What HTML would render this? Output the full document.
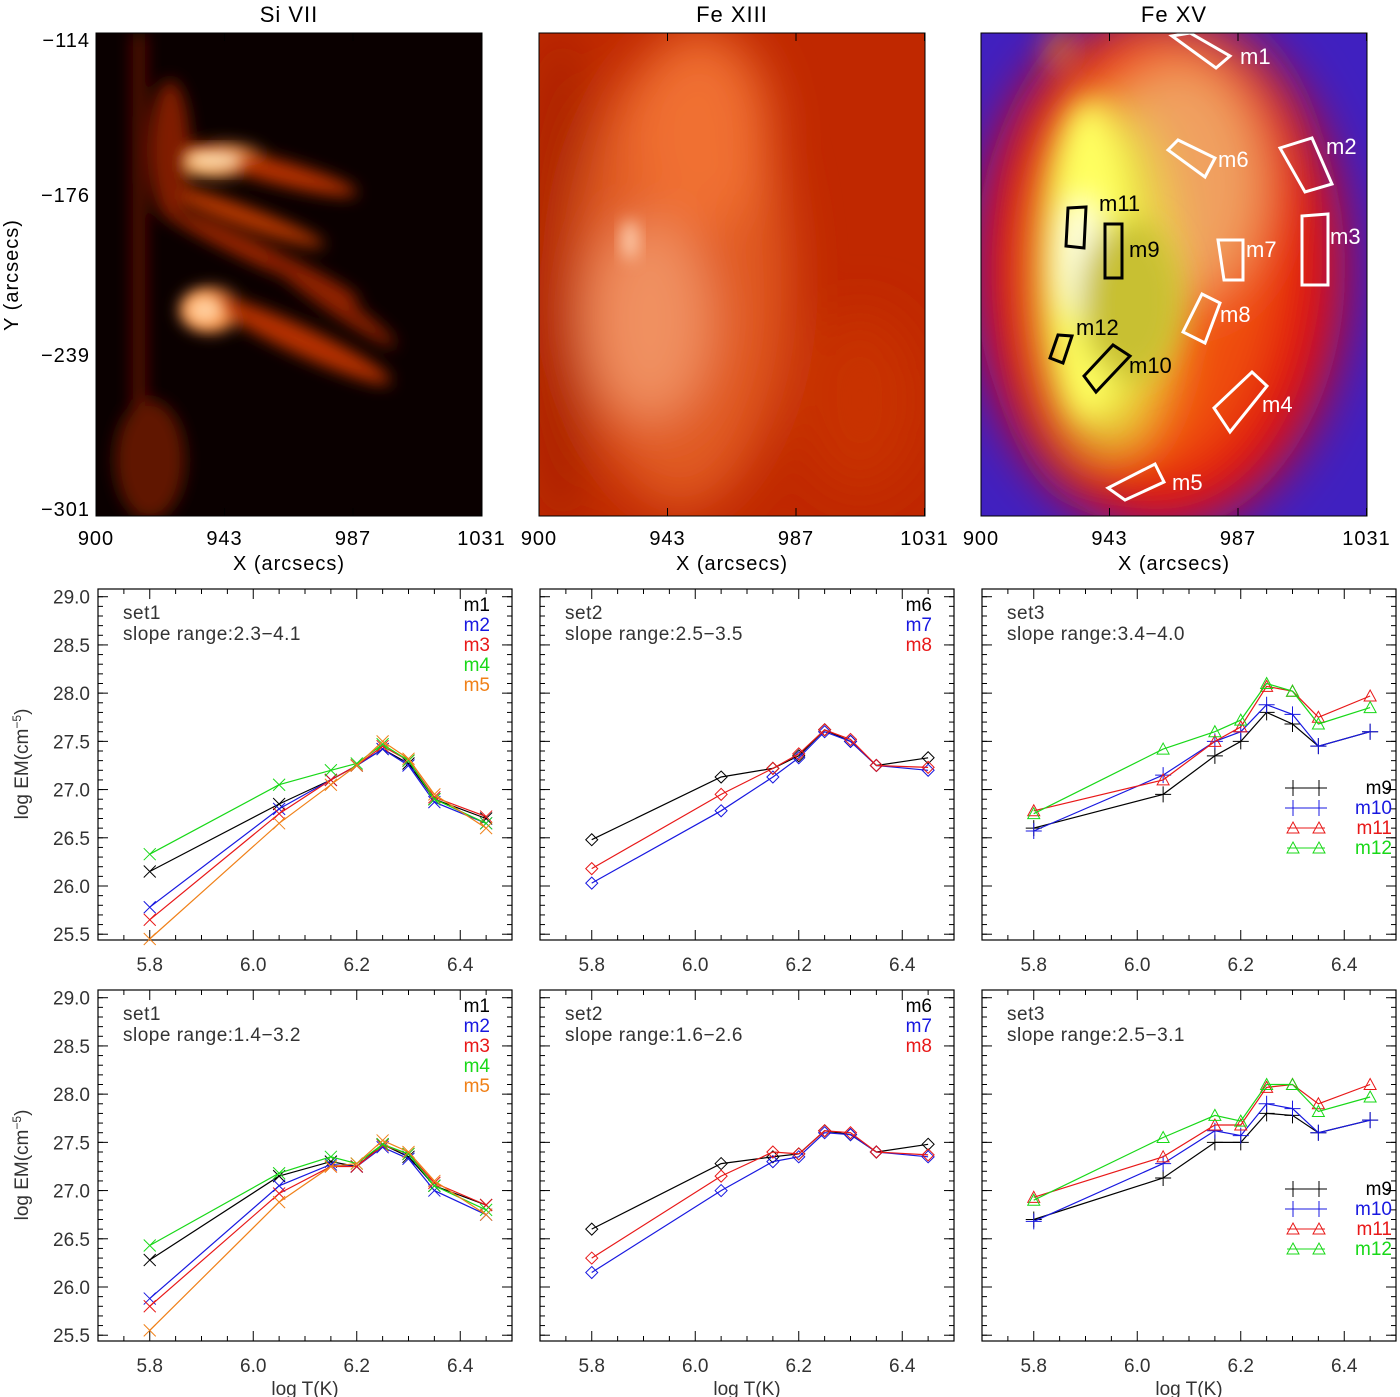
<!DOCTYPE html>
<html><head><meta charset="utf-8">
<style>
body{margin:0;background:#fff;}
svg{display:block;font-family:"Liberation Sans","DejaVu Sans",sans-serif;}
</style></head>
<body>
<svg id="fig" width="1400" height="1397" viewBox="0 0 1400 1397" xmlns="http://www.w3.org/2000/svg">
<defs>
<filter id="b8" x="-50%" y="-50%" width="200%" height="200%"><feGaussianBlur stdDeviation="8"/></filter>
<filter id="b15" x="-50%" y="-50%" width="200%" height="200%"><feGaussianBlur stdDeviation="15"/></filter>
<filter id="b25" x="-50%" y="-50%" width="200%" height="200%"><feGaussianBlur stdDeviation="25"/></filter>
<clipPath id="c1"><rect x="96" y="33" width="386" height="483"/></clipPath>
<clipPath id="c2"><rect x="539" y="33" width="386" height="483"/></clipPath>
<clipPath id="c3"><rect x="981" y="33" width="386" height="483"/></clipPath>
</defs>

<g clip-path="url(#c1)">
<rect x="96" y="33" width="386" height="483" fill="#0a0000"/>
<g filter="url(#b8)">
<rect x="132" y="33" width="14" height="483" fill="#5a1000"/>
<ellipse cx="220" cy="160" rx="45" ry="16" fill="#ff9a40"/>
<ellipse cx="270" cy="170" rx="90" ry="12" fill="#b83000" transform="rotate(15 270 170)"/>
<ellipse cx="240" cy="215" rx="90" ry="10" fill="#c03a00" transform="rotate(20 240 215)"/>
<ellipse cx="260" cy="255" rx="110" ry="10" fill="#a02800" transform="rotate(25 260 255)"/>
<ellipse cx="210" cy="310" rx="30" ry="22" fill="#ff9040"/>
<ellipse cx="300" cy="340" rx="100" ry="14" fill="#b83000" transform="rotate(25 300 340)"/>
<ellipse cx="330" cy="300" rx="80" ry="10" fill="#902000" transform="rotate(35 330 300)"/>
<ellipse cx="150" cy="460" rx="35" ry="60" fill="#601800"/>
<ellipse cx="170" cy="150" rx="20" ry="70" fill="#801e00"/>
</g>
<ellipse cx="215" cy="160" rx="30" ry="10" fill="#ffe0b0" filter="url(#b8)"/>
<ellipse cx="205" cy="310" rx="18" ry="14" fill="#ffd0a0" filter="url(#b8)"/>
</g>

<g clip-path="url(#c2)">
<rect x="539" y="33" width="386" height="483" fill="#c02800"/>
<g filter="url(#b25)">
<ellipse cx="560" cy="280" rx="30" ry="260" fill="#a82000"/>
<ellipse cx="680" cy="280" rx="110" ry="230" fill="#e05a20"/>
<ellipse cx="700" cy="130" rx="70" ry="100" fill="#f07030"/>
<ellipse cx="650" cy="320" rx="60" ry="100" fill="#f09060"/>
<ellipse cx="860" cy="400" rx="60" ry="90" fill="#c83000"/>
</g>
<ellipse cx="630" cy="240" rx="8" ry="20" fill="#ffd0b0" filter="url(#b8)"/>
</g>

<g clip-path="url(#c3)">
<rect x="981" y="33" width="386" height="483" fill="#4020c0"/>
<g filter="url(#b25)">
<ellipse cx="1160" cy="270" rx="185" ry="260" fill="#e01010"/>
<ellipse cx="1160" cy="250" rx="120" ry="220" fill="#f05010"/>
<ellipse cx="1180" cy="180" rx="85" ry="120" fill="#f0a060"/>
<ellipse cx="1110" cy="280" rx="60" ry="170" fill="#e8e040"/>
</g>
<g filter="url(#b15)">
<ellipse cx="1090" cy="260" rx="40" ry="160" fill="#ffff60"/>
<ellipse cx="1080" cy="260" rx="25" ry="60" fill="#ffffe0"/>
<ellipse cx="1130" cy="300" rx="50" ry="80" fill="#c8c030"/>
<ellipse cx="1060" cy="50" rx="10" ry="20" fill="#f09020"/>
</g>
</g>
<g id="boxes" fill="none" stroke-width="3" font-size="22"></g>

<g id="imgaxes"></g>
<g id="plots"></g>
</svg>
<script>
// ---- chart data ----
const temps = [5.8, 6.05, 6.15, 6.2, 6.25, 6.3, 6.35, 6.45];
const yTicks = [25.5, 26.0, 26.5, 27.0, 27.5, 28.0, 28.5, 29.0];
const xTicks = [5.8, 6.0, 6.2, 6.4];
// Row 1
const r1s1m1 = [26.15, 26.85, 27.1, 27.25, 27.42, 27.27, 26.9, 26.7];
const r1s1m2 = [25.78, 26.8, 27.1, 27.25, 27.42, 27.25, 26.87, 26.65];
const r1s1m3 = [25.65, 26.75, 27.1, 27.25, 27.45, 27.3, 26.92, 26.72];
const r1s1m4 = [26.33, 27.05, 27.2, 27.27, 27.47, 27.3, 26.9, 26.65];
const r1s1m5 = [25.45, 26.65, 27.05, 27.25, 27.5, 27.32, 26.95, 26.6];
const r1s2m6 = [26.48, 27.13, 27.22, 27.35, 27.62, 27.5, 27.25, 27.33];
const r1s2m7 = [26.03, 26.78, 27.13, 27.33, 27.6, 27.5, 27.25, 27.2];
const r1s2m8 = [26.18, 26.95, 27.22, 27.37, 27.62, 27.52, 27.25, 27.23];
const r1s3m9 = [26.6, 26.95, 27.35, 27.5, 27.8, 27.68, 27.45, 27.6];
const r1s3m10 = [26.57, 27.15, 27.5, 27.6, 27.88, 27.78, 27.45, 27.6];
const r1s3m11 = [26.78, 27.1, 27.5, 27.65, 28.07, 28.02, 27.75, 27.97];
const r1s3m12 = [26.75, 27.42, 27.6, 27.72, 28.1, 28.02, 27.68, 27.85];
// Row 2
const r2s1m1 = [26.28, 27.15, 27.3, 27.25, 27.48, 27.35, 27.05, 26.85];
const r2s1m2 = [25.88, 27.05, 27.27, 27.25, 27.45, 27.33, 27.0, 26.75];
const r2s1m3 = [25.8, 26.97, 27.25, 27.25, 27.47, 27.38, 27.08, 26.85];
const r2s1m4 = [26.43, 27.18, 27.35, 27.28, 27.48, 27.38, 27.05, 26.8];
const r2s1m5 = [25.55, 26.88, 27.25, 27.28, 27.52, 27.4, 27.1, 26.75];
const r2s2m6 = [26.6, 27.28, 27.35, 27.38, 27.62, 27.58, 27.4, 27.48];
const r2s2m7 = [26.15, 27.0, 27.3, 27.35, 27.6, 27.58, 27.4, 27.35];
const r2s2m8 = [26.3, 27.15, 27.4, 27.38, 27.62, 27.6, 27.4, 27.37];
const r2s3m9 = [26.7, 27.13, 27.5, 27.5, 27.8, 27.78, 27.6, 27.73];
const r2s3m10 = [26.68, 27.28, 27.62, 27.57, 27.9, 27.85, 27.6, 27.73];
const r2s3m11 = [26.93, 27.35, 27.68, 27.68, 28.07, 28.1, 27.9, 28.1];
const r2s3m12 = [26.9, 27.55, 27.78, 27.72, 28.1, 28.1, 27.82, 27.97];
const imgXTicks = ["900", "943", "987", "1031"];
const imgYTicks = ["\u2212114", "\u2212176", "\u2212239", "\u2212301"];

const NS = "http://www.w3.org/2000/svg";
function mk(tag, attrs, parent, text) {
  const e = document.createElementNS(NS, tag);
  for (const k in attrs) e.setAttribute(k, attrs[k]);
  if (text !== undefined) e.textContent = text;
  parent.appendChild(e);
  return e;
}
const C = {k:"#000", b:"#1818e0", r:"#e81818", g:"#18d818", o:"#f08018"};

const boxes = document.getElementById("boxes");
const boxDefs = [
 ["m1","1172,36 1190,33 1230,56 1216,68","#fff",1240,64],
 ["m2","1280,148 1312,138 1332,184 1305,192","#fff",1326,154],
 ["m3","1302,216 1328,214 1328,285 1302,285","#fff",1330,244],
 ["m4","1214,408 1252,372 1267,386 1230,432","#fff",1262,412],
 ["m5","1108,488 1155,464 1164,482 1125,500","#fff",1172,490],
 ["m6","1168,150 1178,140 1215,158 1205,177","#fff",1218,167],
 ["m7","1218,240 1243,240 1243,280 1224,280","#fff",1246,257],
 ["m8","1183,332 1202,294 1220,303 1205,343","#fff",1220,322],
 ["m9","1105,224 1122,224 1122,278 1105,278","#000",1129,257],
 ["m10","1084,376 1113,345 1130,356 1096,392","#000",1129,373],
 ["m11","1068,208 1086,207 1084,248 1066,246","#000",1099,211],
 ["m12","1050,358 1058,335 1072,336 1063,363","#000",1076,335]
];
boxDefs.forEach(d => {
  const p = mk("polygon", {points:d[1], stroke:d[2]}, boxes);
  
  
  const t = mk("text", {x:d[3], y:d[4], fill:d[2], stroke:"none"}, boxes, d[0]);
  
  
});

const ia = document.getElementById("imgaxes");
const imgX0 = [96, 539, 981];
const titles = ["Si VII", "Fe XIII", "Fe XV"];
imgX0.forEach((x0, i) => {
  const fr = mk("rect", {x:x0, y:33, width:386, height:483, fill:"none", stroke:"#000", "stroke-width":1}, ia);
  
  
  const t = mk("text", {x:x0+193, y:22, "text-anchor":"middle", "font-size":22, "letter-spacing":"1"}, ia, titles[i]);
  
  
  imgXTicks.forEach((lab, j) => {
    const x = x0 + j * 128.5;
    mk("line", {x1:x, x2:x, y1:516, y2:508, stroke:"#000"}, ia);
    mk("line", {x1:x, x2:x, y1:33, y2:41, stroke:"#000"}, ia);
    const tl = mk("text", {x:x, y:545, "text-anchor":"middle", "font-size":20, "letter-spacing":"1"}, ia, lab);
    
    
  });
  const xt = mk("text", {x:x0+193, y:570, "text-anchor":"middle", "font-size":20, "letter-spacing":"1"}, ia, "X (arcsecs)");
  
  
});
const imgYPos = [40, 195, 355, 509];
imgYTicks.forEach((lab, j) => {
  const t = mk("text", {x:90, y:imgYPos[j]+7, "text-anchor":"end", "font-size":20, "letter-spacing":"1"}, ia, lab);
  
  
});
const yt = mk("text", {x:18, y:275, "text-anchor":"middle", "font-size":20, transform:"rotate(-90 18 275)", "letter-spacing":"1"}, ia, "Y (arcsecs)");



const plots = document.getElementById("plots");
const panelX = [98, 540, 982];
const rowY = [589, 990];
const PW = 414, PH = 351;
const xMin = 5.7, xMax = 6.5, yMin = 25.44, yMax = 29.08;

function marker(g, type, x, y, col) {
  const s = 6;
  if (type === "x") {
    mk("path", {d:`M${x-s},${y-s}L${x+s},${y+s}M${x-s},${y+s}L${x+s},${y-s}`, stroke:col, fill:"none"}, g);
  } else if (type === "d") {
    mk("path", {d:`M${x},${y-s}L${x+s},${y}L${x},${y+s}L${x-s},${y}Z`, stroke:col, fill:"none"}, g);
  } else if (type === "+") {
    mk("path", {d:`M${x-s-2},${y}L${x+s+2},${y}M${x},${y-s-2}L${x},${y+s+2}`, stroke:col, fill:"none"}, g);
  } else if (type === "t") {
    mk("path", {d:`M${x},${y-s}L${x+s},${y+s-1}L${x-s},${y+s-1}Z`, stroke:col, fill:"none"}, g);
  }
}

const rows = [
 [ [[r1s1m1,"k","m1"],[r1s1m2,"b","m2"],[r1s1m3,"r","m3"],[r1s1m4,"g","m4"],[r1s1m5,"o","m5"]],
   [[r1s2m6,"k","m6"],[r1s2m7,"b","m7"],[r1s2m8,"r","m8"]],
   [[r1s3m9,"k","m9"],[r1s3m10,"b","m10"],[r1s3m11,"r","m11"],[r1s3m12,"g","m12"]] ],
 [ [[r2s1m1,"k","m1"],[r2s1m2,"b","m2"],[r2s1m3,"r","m3"],[r2s1m4,"g","m4"],[r2s1m5,"o","m5"]],
   [[r2s2m6,"k","m6"],[r2s2m7,"b","m7"],[r2s2m8,"r","m8"]],
   [[r2s3m9,"k","m9"],[r2s3m10,"b","m10"],[r2s3m11,"r","m11"],[r2s3m12,"g","m12"]] ]
];
const slopes = [["2.3\u22124.1","2.5\u22123.5","3.4\u22124.0"],["1.4\u22123.2","1.6\u22122.6","2.5\u22123.1"]];
const mtypes = ["x","d","+"];

rows.forEach((row, ri) => {
  const y0 = rowY[ri];
  row.forEach((series, pi) => {
    const x0 = panelX[pi];
    const g = mk("g", {}, plots);
    
    
    const X = v => x0 + (v - xMin) / (xMax - xMin) * PW;
    const Y = v => y0 + PH - (v - yMin) / (yMax - yMin) * PH;
    mk("rect", {x:x0, y:y0, width:PW, height:PH, fill:"none", stroke:"#000", "stroke-width":1.2}, g);
    for (let v = 5.75; v <= 6.451; v += 0.05) {
      const major = Math.abs(v*10 - Math.round(v*10)) < 1e-6 && Math.round(v*10) % 2 === 0;
      const L = major ? 10 : 5;
      mk("line", {x1:X(v), x2:X(v), y1:y0+PH, y2:y0+PH-L, stroke:"#000"}, g);
      mk("line", {x1:X(v), x2:X(v), y1:y0, y2:y0+L, stroke:"#000"}, g);
    }
    xTicks.forEach(v => {
      const t = mk("text", {x:X(v), y:y0+PH+31, "text-anchor":"middle", "font-size":19, fill:"#333"}, g, v.toFixed(1));
      
      
    });
    for (let v = 25.5; v <= 29.05; v += 0.1) {
      const L = 5;
      mk("line", {x1:x0, x2:x0+L, y1:Y(v), y2:Y(v), stroke:"#000"}, g);
      mk("line", {x1:x0+PW, x2:x0+PW-L, y1:Y(v), y2:Y(v), stroke:"#000"}, g);
    }
    yTicks.forEach(v => {
      mk("line", {x1:x0, x2:x0+10, y1:Y(v), y2:Y(v), stroke:"#000"}, g);
      mk("line", {x1:x0+PW, x2:x0+PW-10, y1:Y(v), y2:Y(v), stroke:"#000"}, g);
      if (pi === 0) {
        const t = mk("text", {x:x0-8, y:Y(v)+7, "text-anchor":"end", "font-size":19, fill:"#333"}, g, v.toFixed(1));
        
        
      }
    });
    if (pi === 0) {
      const cy = y0 + 175;
      const t = mk("text", {x:28, y:cy, "text-anchor":"middle", "font-size":19, fill:"#333", transform:`rotate(-90 28 ${cy})`}, g);
      
      
      t.innerHTML = 'log EM(cm<tspan dy="-7" font-size="12">\u22125</tspan><tspan dy="7">)</tspan>';
    }
    if (ri === 1) {
      const t = mk("text", {x:x0+207, y:y0+PH+54, "text-anchor":"middle", "font-size":19, fill:"#333"}, g, "log T(K)");
      
      
    }
    const s1 = mk("text", {x:x0+25, y:y0+30, "font-size":19, fill:"#333", "letter-spacing":"0.5"}, g, "set" + (pi+1));
    
    
    const s2 = mk("text", {x:x0+25, y:y0+51, "font-size":19, fill:"#333", "letter-spacing":"0.5"}, g, "slope range:" + slopes[ri][pi]);
    
    
    series.forEach((s, si) => {
      const col = C[s[1]];
      const d = s[0].map((v, k) => (k ? "L" : "M") + X(temps[k]).toFixed(1) + "," + Y(v).toFixed(1)).join("");
      const ln = mk("path", {d:d, stroke:col, fill:"none", "stroke-width":1.2}, g);
      
      
      const mt = pi === 2 ? (si < 2 ? "+" : "t") : mtypes[pi];
      s[0].forEach((v, k) => marker(g, mt, X(temps[k]), Y(v), col));
      if (pi < 2) {
        const t = mk("text", {x:x0+PW-22, y:y0+22+si*20, "text-anchor":"end", "font-size":19, fill:col}, g, s[2]);
        
        
      } else {
        const ly = y0 + 199 + si * 20;
        mk("line", {x1:x0+305, x2:x0+343, y1:ly, y2:ly, stroke:col}, g);
        marker(g, mt, x0+311, ly, col);
        marker(g, mt, x0+337, ly, col);
        const t = mk("text", {x:x0+PW-4, y:ly+6, "text-anchor":"end", "font-size":19, fill:col}, g, s[2]);
        
        
      }
    });
  });
});
</script>
</body></html>
